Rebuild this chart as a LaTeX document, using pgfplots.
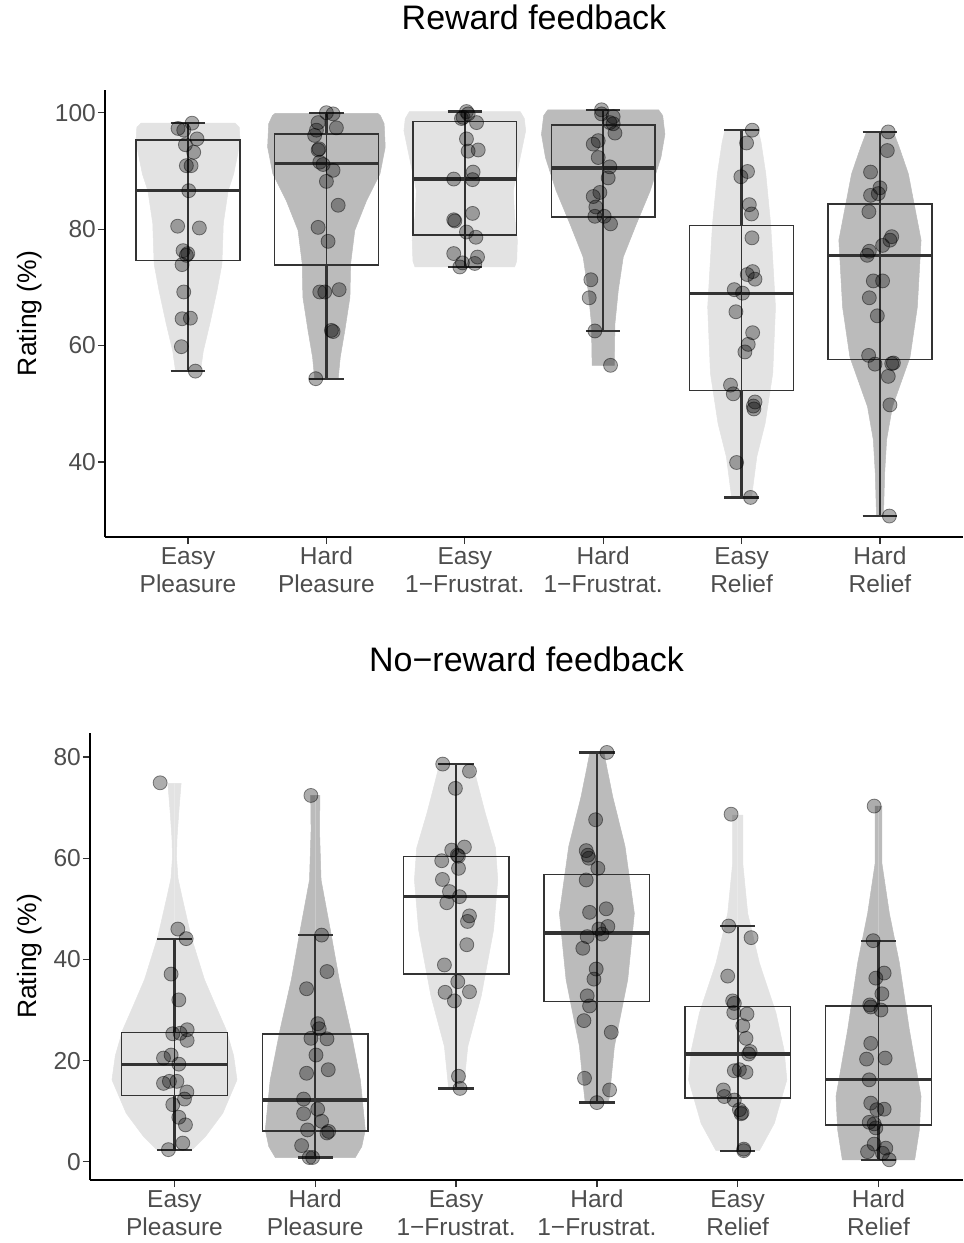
\documentclass[border=0pt]{standalone}
\usepackage{fontspec}
\setmainfont{Liberation Sans}
\usepackage{pgfplots}
\usepackage{pgfplotstable}
\pgfplotsset{compat=1.18}
\usepgfplotslibrary{statistics}

\definecolor{gray20}{HTML}{333333}
\definecolor{gray30}{HTML}{4D4D4D}
\definecolor{vL}{HTML}{E3E3E3}
\definecolor{vD}{HTML}{BBBBBB}

% ---------- violin outlines (y, half width in category units) ----------
\pgfplotstableread{
y w
55.6 0
55.6 0.09
59 0.11
64 0.16
69.5 0.21
74 0.245
81 0.255
86.6 0.29
89.5 0.33
93 0.36
95.5 0.375
97.5 0.37
98.2 0.34
98.2 0
}\vRa
\pgfplotstableread{
y w
54.3 0
54.3 0.085
58 0.10
62.6 0.133
68.3 0.17
74.1 0.175
79.8 0.205
84.9 0.29
89.5 0.387
94.1 0.425
98.1 0.417
99.5 0.39
99.9 0.37
99.9 0
}\vRb
\pgfplotstableread{
y w
73.5 0
73.5 0.36
74.5 0.375
78.1 0.38
82.1 0.36
86.6 0.35
92.3 0.40
96.9 0.44
99 0.43
100.2 0.40
100.2 0
}\vRc
\pgfplotstableread{
y w
56.6 0
56.6 0.08
63.8 0.085
69.5 0.109
75.2 0.145
80.9 0.24
86.6 0.34
92.3 0.417
96.3 0.446
99.5 0.43
100.5 0.40
100.5 0
}\vRd
\pgfplotstableread{
y w
33.9 0
33.9 0.072
40.9 0.11
46.6 0.17
55.2 0.225
66.6 0.245
80.9 0.21
89.5 0.175
95 0.14
97.0 0.12
97.0 0
}\vRe
\pgfplotstableread{
y w
30.7 0
30.7 0.025
38.1 0.034
43.8 0.048
49.5 0.09
58.0 0.217
66.6 0.27
78.1 0.297
89.5 0.205
94 0.14
96.7 0.097
96.7 0
}\vRf
\pgfplotstableread{
y w
2.5 0
2.5 0.13
5 0.22
9.6 0.343
16.2 0.444
21 0.42
26.1 0.367
31 0.29
36.0 0.213
44.5 0.118
52.4 0.053
56 0.025
60.3 0.014
64 0.018
68.9 0.03
74.8 0.047
74.8 0
}\vNa
\pgfplotstableread{
y w
0.85 0
0.85 0.284
3 0.33
6.3 0.355
16.2 0.32
26.1 0.25
36.0 0.17
45.8 0.107
55.7 0.041
65.6 0.03
72.4 0.033
72.4 0
}\vNb
\pgfplotstableread{
y w
14.5 0
14.5 0.053
22.8 0.083
32.7 0.178
45.8 0.266
55.7 0.296
62 0.28
68.9 0.207
75 0.15
78.6 0.118
78.6 0
}\vNc
\pgfplotstableread{
y w
11.7 0
11.7 0.083
16 0.1
22.8 0.124
36.0 0.219
49.1 0.266
62.3 0.2
72.2 0.112
78 0.07
80.9 0.05
80.9 0
}\vNd
\pgfplotstableread{
y w
2.2 0
2.2 0.154
7.6 0.26
16.2 0.349
22 0.33
29.4 0.272
39.3 0.154
49.1 0.071
59.0 0.036
68.5 0.036
68.5 0
}\vNe
\pgfplotstableread{
y w
0.4 0
0.4 0.257
6.3 0.29
12.9 0.302
26.1 0.219
39.3 0.148
49.1 0.077
59.0 0.024
70.3 0.024
70.3 0
}\vNf

% ---------- individual ratings (d = jitter offset, v = rating) ----------
\pgfplotstableread{
d v
0.029 98.2
-0.072 97.3
-0.031 97.0
0.065 95.5
-0.019 94.5
0.041 93.2
-0.012 90.9
0.022 90.9
0.005 86.6
-0.075 80.5
0.082 80.2
-0.036 76.3
-0.002 75.8
-0.012 75.5
-0.043 73.9
-0.031 69.2
-0.043 64.6
0.017 64.7
-0.048 59.8
0.053 55.6
}\pRa
\pgfplotstableread{
d v
0 100
0.048 99.8
-0.060 98.3
0.072 97.4
-0.072 97.0
-0.085 96.1
-0.060 93.6
-0.053 93.8
-0.048 91.5
-0.024 91.1
0.048 90.1
0 88.2
0.085 84.1
-0.060 80.3
0.012 77.9
-0.048 69.2
-0.012 69.2
0.092 69.6
0.036 62.6
0.048 62.4
-0.077 54.3
}\pRb
\pgfplotstableread{
d v
0.012 100.2
0.024 99.8
-0.012 99.2
-0.024 99.0
0.085 98.3
0.012 95.5
0.097 93.6
0.024 93.4
0.060 89.8
-0.080 88.6
0.056 88.5
0.056 82.7
-0.080 81.6
-0.072 81.4
0.012 79.5
0.080 78.6
-0.080 75.8
0.092 75.2
-0.017 74.2
0.072 74.1
-0.036 73.5
}\pRc
\pgfplotstableread{
d v
-0.012 100.5
-0.012 99.8
0.072 99.3
0.048 98.3
0.072 98.1
0.085 96.5
-0.036 95.2
-0.072 94.6
-0.036 92.3
0.048 90.7
0.036 88.8
-0.024 86.3
-0.072 85.6
-0.053 83.8
-0.060 82.2
0.007 82.2
0.053 80.9
-0.089 71.3
-0.101 68.2
-0.060 62.5
0.053 56.6
}\pRd
\pgfplotstableread{
d v
0.077 97.0
0.036 94.8
0.043 89.9
-0.005 89.0
0.056 84.2
0.072 82.6
0.075 78.5
0.080 72.7
0.041 72.2
0.097 71.4
-0.053 69.6
0.007 69.0
-0.041 65.8
0.080 62.2
0.048 60.2
0.024 58.9
-0.080 53.2
-0.060 51.7
0.097 50.3
0.085 49.6
0.089 49.1
-0.036 39.9
0.065 33.9
}\pRe
\pgfplotstableread{
d v
0.060 96.7
0.053 93.5
-0.068 89.8
0 87.1
-0.012 86.1
-0.068 85.8
-0.080 83.0
0.085 78.7
0.072 78.1
0.019 77.2
-0.077 76.2
-0.092 75.5
-0.048 71.1
0.019 71.1
-0.077 68.2
-0.019 65.1
-0.082 58.3
-0.036 56.8
0.097 57.0
0.085 56.9
0.060 54.7
0.072 49.8
0.068 30.7
}\pRf
\pgfplotstableread{
d v
-0.102 74.9
0.024 46.0
0.083 44.1
-0.024 37.1
0.031 32.0
-0.012 25.3
0.040 25.4
0.090 26.1
0.090 24.0
-0.024 21.1
-0.078 20.5
0.031 19.3
-0.078 15.5
-0.036 15.9
0.017 15.9
0.088 13.8
0.071 12.4
-0.012 11.3
0.031 8.8
0.078 7.3
0.059 3.7
-0.043 2.4
}\pNa
\pgfplotstableread{
d v
-0.031 72.4
0.045 44.8
0.083 37.6
-0.062 34.2
0.017 27.3
0.028 26.3
-0.031 24.4
0.083 24.3
0.005 21.1
-0.062 17.5
0.092 18.2
-0.083 12.4
0.017 10.4
-0.083 9.5
0.045 8.0
-0.055 6.3
0.095 6.0
0.083 5.7
-0.097 3.2
-0.043 0.85
-0.019 0.85
}\pNb
\pgfplotstableread{
d v
-0.095 78.6
0.095 77.2
-0.005 73.8
-0.031 61.6
0.059 62.2
0.009 60.6
0.017 60.4
-0.102 59.5
0.017 58.0
-0.097 55.8
-0.047 53.4
0.024 52.4
-0.066 51.2
0.095 48.6
0.081 47.5
0.076 42.9
-0.083 38.9
0.012 35.6
-0.078 33.5
0.095 33.6
-0.012 31.8
0.017 16.9
0.028 14.5
}\pNc
\pgfplotstableread{
d v
0.071 80.9
-0.009 67.6
-0.076 61.5
-0.064 60.6
-0.057 60.0
0.007 58.0
-0.076 55.7
0.066 50.0
-0.052 49.3
0.078 46.5
0.014 46.0
0.036 45.0
-0.069 44.5
-0.100 42.2
-0.005 38.1
-0.021 36.1
-0.069 32.8
-0.052 30.8
-0.092 27.9
0.102 25.6
-0.088 16.5
0.090 14.2
0 11.7
}\pNd
\pgfplotstableread{
d v
-0.047 68.7
-0.064 46.6
0.095 44.3
-0.071 36.7
-0.036 31.8
-0.024 31.3
-0.028 29.5
0.066 29.2
0.036 26.9
0.059 24.4
0.088 21.8
0.078 21.3
-0.024 18.0
0.012 18.2
0.059 17.7
-0.102 14.2
-0.095 12.9
-0.024 12.2
0.012 10.3
0.031 9.7
0.024 9.5
0.043 2.5
0.043 2.2
}\pNe
\pgfplotstableread{
d v
-0.031 70.3
-0.038 43.7
0.040 37.3
-0.019 36.3
0.024 33.2
-0.062 31.0
-0.055 30.6
0.017 30.0
-0.055 23.4
-0.085 20.3
0.047 20.5
-0.066 16.2
-0.055 11.6
0.040 10.4
-0.012 10.3
-0.066 7.8
-0.031 7.5
-0.019 6.7
-0.031 3.5
0.052 2.7
-0.078 2.0
0.028 1.7
0.076 0.4
}\pNf

% #1 position, #2 violin table, #3 colour
\newcommand\violin[3]{%
  \addplot[fill=#3, draw=#3, line width=0.5pt] table[x expr=#1+\thisrow{w}, y=y] {#2};
  \addplot[fill=#3, draw=#3, line width=0.5pt] table[x expr=#1-\thisrow{w}, y=y] {#2};
}
% #1 position, #2 lower whisker, #3 lower quartile, #4 median, #5 upper quartile, #6 upper whisker
\newcommand\bx[6]{%
  \addplot[boxplot/draw direction=y,
    boxplot prepared={draw position=#1, lower whisker=#2, lower quartile=#3,
      median=#4, upper quartile=#5, upper whisker=#6, box extend=0.75, whisker extend=0.25},
    draw=gray20, line width=1.5pt, boxplot/every median/.style={line width=3.2pt},
    boxplot/every whisker/.style={line width=2.2pt}] coordinates {};
  \addplot[draw=gray20, line width=1.6pt] coordinates {(#1,#2) (#1,#6)};
}
% #1 position, #2 points table
\newcommand\pts[2]{%
  \addplot[only marks, mark=*, mark size=7pt,
    mark options={fill=black, fill opacity=0.32, draw=black, draw opacity=0.45, line width=0.8pt}]
    table[x expr=#1+\thisrow{d}, y=v] {#2};
}

\pgfplotsset{
  panel/.style={
    scale only axis,
    axis lines*=left,
    axis line style={-, line width=1.3pt, black},
    xmin=0.4, xmax=6.6,
    xtick={1,2,3,4,5,6},
    xticklabels={\strut Easy\\Pleasure, \strut Hard\\Pleasure, \strut Easy\\1−Frustrat., \strut Hard\\1−Frustrat., \strut Easy\\Relief, \strut Hard\\Relief},
    tick align=outside,
    major tick length=7pt,
    tick style={gray20, line width=1.2pt},
    xticklabel style={align=center, font=\fontsize{24.5}{28.3}\selectfont, text=gray30, yshift=3pt},
    yticklabel style={font=\fontsize{24.5}{28}\selectfont, text=gray30, inner sep=2pt},
    /pgf/number format/assume math mode=true,
    title style={at={(0.5,1)}, anchor=base, yshift=55pt, inner sep=0pt, font=\fontsize{34}{38}\selectfont},
    ylabel={Rating (\%)},
    label style={font=\fontsize{26.5}{30}\selectfont},
    clip=false,
  }
}

\begin{document}
\begin{tikzpicture}
\useasboundingbox (0pt,0pt) rectangle (964pt,-1243pt);

\begin{axis}[panel,
  at={(105pt,-90pt)}, anchor=north west,
  width=858pt, height=447pt,
  ymin=27.1, ymax=103.9,
  ytick={40,60,80,100},
  title={Reward feedback},
  ylabel style={at={(axis description cs:-0.0874,0.5)}, anchor=center},
]
\violin{1}{\vRa}{vL}
\violin{2}{\vRb}{vD}
\violin{3}{\vRc}{vL}
\violin{4}{\vRd}{vD}
\violin{5}{\vRe}{vL}
\violin{6}{\vRf}{vD}
\bx{1}{55.6}{74.6}{86.6}{95.3}{98.2}
\bx{2}{54.3}{73.8}{91.3}{96.3}{99.9}
\bx{3}{73.5}{79.0}{88.6}{98.5}{100.2}
\bx{4}{62.5}{82.1}{90.5}{97.9}{100.5}
\bx{5}{33.9}{52.3}{69.0}{80.6}{97.0}
\bx{6}{30.7}{57.6}{75.5}{84.3}{96.7}
\pts{1}{\pRa}
\pts{2}{\pRb}
\pts{3}{\pRc}
\pts{4}{\pRd}
\pts{5}{\pRe}
\pts{6}{\pRf}
\end{axis}

\begin{axis}[panel,
  at={(90pt,-732.7pt)}, anchor=north west,
  width=873pt, height=447.3pt,
  ymin=-3.6, ymax=84.8,
  ytick={0,20,40,60,80},
  title={No−reward feedback},
  ylabel style={at={(axis description cs:-0.0687,0.5)}, anchor=center},
]
\violin{1}{\vNa}{vL}
\violin{2}{\vNb}{vD}
\violin{3}{\vNc}{vL}
\violin{4}{\vNd}{vD}
\violin{5}{\vNe}{vL}
\violin{6}{\vNf}{vD}
\bx{1}{2.4}{13.1}{19.2}{25.6}{44.1}
\bx{2}{0.85}{6.1}{12.2}{25.3}{44.8}
\bx{3}{14.5}{37.1}{52.4}{60.3}{78.6}
\bx{4}{11.7}{31.7}{45.2}{56.8}{80.9}
\bx{5}{2.2}{12.6}{21.3}{30.7}{46.6}
\bx{6}{0.4}{7.3}{16.2}{30.8}{43.7}
\pts{1}{\pNa}
\pts{2}{\pNb}
\pts{3}{\pNc}
\pts{4}{\pNd}
\pts{5}{\pNe}
\pts{6}{\pNf}
\end{axis}
\end{tikzpicture}
\end{document}
